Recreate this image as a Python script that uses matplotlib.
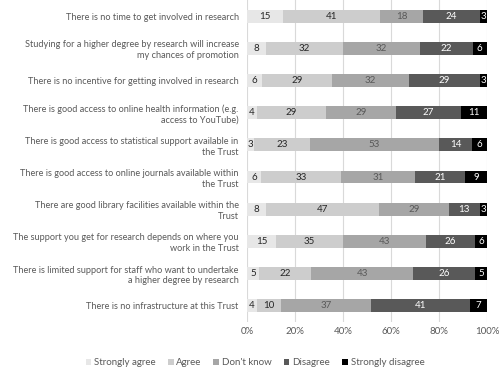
import numpy as np
import matplotlib.pyplot as plt

plt.rcParams['font.family'] = ['Lato', 'DejaVu Sans']

statements = [
    "There is no time to get involved in research",
    "Studying for a higher degree by research will increase\nmy chances of promotion",
    "There is no incentive for getting involved in research",
    "There is good access to online health information (e.g.\naccess to YouTube)",
    "There is good access to statistical support available in\nthe Trust",
    "There is good access to online journals available within\nthe Trust",
    "There are good library facilities available within the\nTrust",
    "The support you get for research depends on where you\nwork in the Trust",
    "There is limited support for staff who want to undertake\na higher degree by research",
    "There is no infrastructure at this Trust",
]
responses = ["Strongly agree", "Agree", "Don't know", "Disagree", "Strongly disagree"]

strongly_agree = [15, 8, 6, 4, 3, 6, 8, 15, 5, 4]
agree = [41, 32, 29, 29, 23, 33, 47, 35, 22, 10]
dont_know = [18, 32, 32, 29, 53, 31, 29, 43, 43, 37]
disagree = [24, 22, 29, 27, 14, 21, 13, 26, 26, 41]
strongly_disagree = [3, 6, 3, 11, 6, 9, 3, 6, 5, 7]

colors = ["#e7e7e7", "#cdcdcd", "#a6a6a6", "#595959", "#000000"]
text_colors = ["#262626", "#262626", "#595959", "#ffffff", "#ffffff"]

counts = np.array([strongly_agree, agree, dont_know, disagree, strongly_disagree], dtype=float)
shares = counts / counts.sum(axis=0) * 100

fig = plt.figure(figsize=(5, 3.67), dpi=100)
ax = fig.add_axes([0.494, 0.123, 0.48, 0.877])

y = np.arange(len(statements))
left = np.zeros(len(statements))
for i, name in enumerate(responses):
    ax.barh(y, shares[i], left=left, height=0.4, color=colors[i], label=name, zorder=3)
    for j in range(len(statements)):
        cx = left[j] + shares[i][j] / 2
        ax.text(cx, y[j], str(int(counts[i][j])), ha="center", va="center",
                fontsize=7, color=text_colors[i], zorder=4)
    left += shares[i]

ax.set_ylim(len(statements) - 0.5, -0.5)
ax.set_xlim(0, 100)
ax.set_yticks(y)
ax.set_yticklabels(statements, fontsize=6.6, color="#595959", linespacing=1.25)
ax.set_xticks([0, 20, 40, 60, 80, 100])
ax.set_xticklabels(["0%", "20%", "40%", "60%", "80%", "100%"], fontsize=7, color="#595959")
ax.tick_params(axis="y", length=0, pad=6)
ax.tick_params(axis="x", length=0, pad=4)
ax.xaxis.grid(True, color="#d9d9d9", linewidth=0.8, zorder=0)
for s in ax.spines.values():
    s.set_visible(False)

fig.legend(loc="lower center", bbox_to_anchor=(0.51, -0.025), ncol=5, frameon=False,
           fontsize=7, handlelength=0.6, handleheight=0.6, handletextpad=0.3,
           columnspacing=1.2, labelcolor="#595959")

fig.savefig("out.png", dpi=100)
